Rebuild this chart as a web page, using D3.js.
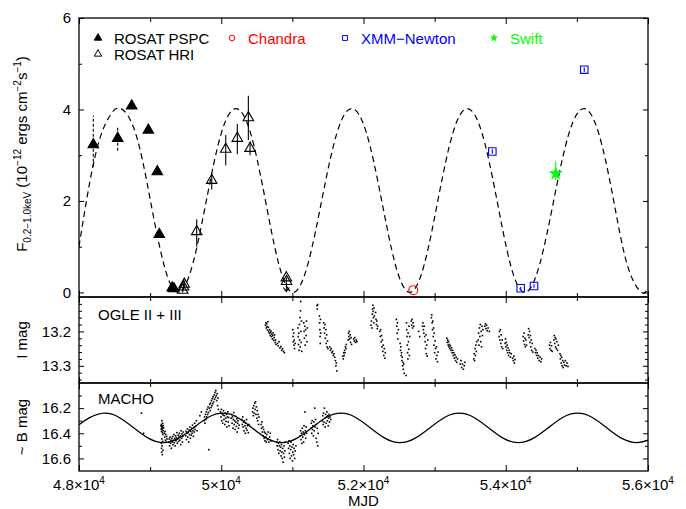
<!DOCTYPE html>
<html>
<head>
<meta charset="utf-8">
<script src="https://cdn.jsdelivr.net/npm/d3@7"></script>
<style>
  body { margin: 0; background: #fff; }
  svg { display: block; font-family: 'Liberation Sans', Arial, sans-serif; }
  .tick line { stroke: #000; }
</style>
</head>
<body>
<div id="chart"></div>
<script>
// ---- values ----
const xMajorTicks = [48000, 50000, 52000, 54000, 56000];
const xMinorTicks = [49000, 51000, 53000, 55000];
const fluxTicks = [0, 2, 4, 6];
const fluxMinorTicks = [1, 3, 5];
const iMagTicks = [13.2, 13.3];
const iMagMinorTicks = [13.12, 13.14, 13.16, 13.18, 13.22, 13.24, 13.26, 13.28, 13.32, 13.34];
const bMagTicks = [16.2, 16.4, 16.6];
const bMagMinorTicks = [16.1, 16.3, 16.5];

// X-ray fluxes: [MJD, flux, errLo, errHi]
const pspc = [
  [48201, 3.23, 2.75, 3.87], [48544, 3.37, 3.1, 3.62], [48741, 4.08], [48975, 3.55],
  [49101, 2.64], [49129, 1.27], [49310, 0.1], [49335, 0.08],
];
const hri = [
  [49458, 0.05, 0.0, 0.12], [49470, 0.12, 0.05, 0.2], [49480, 0.18, 0.1, 0.26],
  [49655, 1.33, 1.0, 1.6], [49866, 2.45, 2.25, 2.6], [50063, 3.13, 2.78, 3.44],
  [50226, 3.37, 3.02, 3.68], [50381, 3.82, 3.33, 4.3], [50405, 3.15, 3.0, 3.3],
];
const hriUpperLimits = [[50915, 0.32], [50918, 0.24]];
const chandra = [[52700, 0.05]];
const xmm = [[53811, 3.08, 3.03, 3.13], [54210, 0.09, 0.05, 0.12], [54397, 0.14, 0.1, 0.18], [55104, 4.87, 4.82, 4.92]];
const swift = [[54702, 2.6, 2.45, 2.87]];

// dashed model in the flux panel: [MJD, flux]
const fluxModel = [
  [48000, 1.0], [48150, 2.4], [48300, 3.4], [48450, 3.9], [48590, 4.02],
  [48792, 3.5], [48993, 2.1], [49195, 0.6], [49396, 0.0],
  [49599, 0.62], [49802, 2.1], [50004, 3.5], [50207, 4.02],
  [50409, 3.5], [50610, 2.1], [50812, 0.6], [51013, 0.0],
  [51218, 0.62], [51424, 2.1], [51629, 3.5], [51834, 4.02],
  [52039, 3.5], [52244, 2.1], [52449, 0.6], [52654, 0.0],
  [52856, 0.62], [53057, 2.1], [53259, 3.5], [53460, 4.02],
  [53663, 3.5], [53866, 2.1], [54068, 0.6], [54271, 0.0],
  [54478, 0.62], [54686, 2.1], [54893, 3.5], [55100, 4.02],
  [55303, 3.5], [55506, 2.1], [55709, 0.6], [55912, 0.0], [56000, 0.12],
];

// solid model in the MACHO panel: [MJD, mag]
const bModel = [
  [48000, 16.332], [48150, 16.276], [48358, 16.24],
  [48566, 16.274], [48773, 16.358], [48981, 16.441], [49188, 16.475],
  [49397, 16.441], [49605, 16.358], [49814, 16.274], [50022, 16.24],
  [50229, 16.274], [50437, 16.358], [50644, 16.441], [50851, 16.475],
  [51059, 16.441], [51268, 16.358], [51476, 16.274], [51684, 16.24],
  [51891, 16.274], [52099, 16.358], [52306, 16.441], [52513, 16.475],
  [52722, 16.441], [52930, 16.358], [53139, 16.274], [53347, 16.24],
  [53554, 16.274], [53762, 16.358], [53969, 16.441], [54176, 16.475],
  [54384, 16.441], [54593, 16.358], [54801, 16.274], [55009, 16.24],
  [55217, 16.274], [55425, 16.358], [55633, 16.441], [55841, 16.475], [56000, 16.455],
];

// OGLE II + III I-band: [MJD, mag]
const ogle = [
  [50622,13.182],[50628,13.175],[50633,13.190],[50638,13.178],[50645,13.186],[50650,13.196],[50656,13.172],[50662,13.188],
  [50668,13.200],[50675,13.205],[50681,13.195],[50688,13.212],[50694,13.204],[50700,13.199],[50706,13.215],[50712,13.208],
  [50718,13.222],[50725,13.212],[50731,13.204],[50737,13.226],[50744,13.218],[50750,13.210],[50757,13.232],[50763,13.225],
  [50770,13.238],[50790,13.235],[50800,13.242],[50812,13.230],[50825,13.248],[50838,13.244],[50850,13.255],[50862,13.250],
  [50875,13.258],[50888,13.262],
  [51005,13.195],[51010,13.215],[51014,13.230],[51018,13.205],[51022,13.240],[51026,13.225],[51030,13.250],[51040,13.235],
  [51078,13.190],[51082,13.215],[51086,13.238],[51090,13.205],[51094,13.255],[51098,13.180],[51102,13.225],[51106,13.160],
  [51110,13.245],[51114,13.140],[51117,13.113],[51120,13.200],[51124,13.232],[51128,13.170],[51132,13.258],
  [51160,13.175],[51165,13.200],[51170,13.220],[51175,13.185],[51180,13.240],[51186,13.195],[51192,13.212],[51198,13.170],
  [51205,13.230],[51210,13.190],
  [51345,13.125],[51350,13.135],[51355,13.122],[51380,13.155],[51383,13.175],[51386,13.195],[51389,13.215],[51392,13.235],
  [51395,13.165],[51398,13.205],[51440,13.175],[51446,13.190],[51452,13.205],[51458,13.180],[51464,13.220],[51470,13.195],
  [51476,13.235],[51482,13.210],[51488,13.245],[51494,13.228],[51500,13.250],[51525,13.245],[51535,13.255],[51545,13.250],
  [51555,13.262],[51565,13.258],[51575,13.270],[51585,13.265],[51595,13.275],[51605,13.285],[51612,13.300],[51618,13.292],
  [51625,13.315],
  [51710,13.272],[51716,13.280],[51722,13.262],[51728,13.270],[51734,13.255],[51740,13.262],[51746,13.245],[51752,13.250],
  [51758,13.238],[51785,13.225],[51790,13.205],[51795,13.215],[51800,13.200],[51806,13.222],[51812,13.210],[51818,13.232],
  [51825,13.218],[51832,13.238],[51862,13.222],[51870,13.228],[51878,13.218],[51888,13.232],[51898,13.225],[51908,13.230],
  [52105,13.182],[52112,13.170],[52118,13.190],[52124,13.150],[52128,13.135],[52132,13.124],[52136,13.142],[52140,13.160],
  [52144,13.175],[52148,13.132],[52152,13.155],[52170,13.145],[52176,13.165],[52182,13.180],[52188,13.170],[52194,13.192],
  [52200,13.185],[52230,13.200],[52236,13.215],[52242,13.195],[52248,13.230],[52254,13.212],[52260,13.245],[52266,13.225],
  [52272,13.258],[52278,13.240],[52285,13.270],[52292,13.250],[52300,13.278],[52306,13.262],
  [52462,13.165],[52468,13.185],[52474,13.205],[52478,13.175],[52484,13.222],[52490,13.195],[52515,13.235],[52520,13.255],
  [52525,13.245],[52530,13.270],[52535,13.262],[52540,13.285],[52545,13.275],[52550,13.300],[52555,13.290],[52560,13.310],
  [52566,13.295],[52572,13.322],[52598,13.328],[52604,13.175],[52608,13.195],[52612,13.215],[52616,13.240],[52620,13.262],
  [52624,13.280],[52628,13.205],[52632,13.230],[52636,13.252],[52640,13.185],[52645,13.270],[52650,13.215],[52672,13.170],
  [52678,13.182],[52684,13.165],[52690,13.190],[52698,13.175],[52706,13.185],
  [52775,13.200],[52790,13.215],[52830,13.185],[52836,13.175],[52842,13.195],[52848,13.205],[52854,13.185],[52860,13.215],
  [52866,13.230],[52872,13.250],[52878,13.210],[52884,13.265],[52890,13.240],[52896,13.272],[52904,13.225],[52955,13.160],
  [52960,13.152],[52965,13.175],[52970,13.195],[52975,13.170],[52980,13.215],[52985,13.190],[52990,13.240],[52995,13.205],
  [53000,13.262],[53006,13.228],[53012,13.250],[53018,13.280],[53025,13.245],[53032,13.270],[53040,13.288],[53048,13.260],
  [53172,13.220],[53178,13.232],[53184,13.225],[53190,13.240],[53196,13.230],[53202,13.245],[53208,13.238],[53214,13.250],
  [53222,13.242],[53230,13.255],[53238,13.248],[53246,13.262],[53254,13.255],[53262,13.270],[53270,13.262],[53278,13.278],
  [53286,13.268],[53294,13.285],[53302,13.275],[53312,13.290],[53322,13.280],[53360,13.295],[53370,13.285],[53380,13.305],
  [53392,13.295],[53404,13.310],[53416,13.300],[53425,13.290],
  [53550,13.280],[53556,13.265],[53562,13.285],[53568,13.250],[53574,13.270],[53580,13.240],[53586,13.258],[53592,13.230],
  [53612,13.225],[53618,13.205],[53624,13.240],[53630,13.190],[53636,13.215],[53642,13.180],[53648,13.230],[53654,13.200],
  [53660,13.245],[53666,13.185],[53672,13.212],[53680,13.195],[53706,13.185],[53714,13.178],[53722,13.192],[53730,13.182],
  [53740,13.198],[53752,13.190],[53770,13.200],
  [53905,13.215],[53912,13.200],[53918,13.225],[53924,13.195],[53930,13.235],[53936,13.210],[53942,13.245],[53950,13.225],
  [53958,13.250],[53990,13.235],[53996,13.222],[54002,13.245],[54008,13.232],[54014,13.255],[54020,13.240],[54026,13.262],
  [54032,13.248],[54040,13.270],[54048,13.255],[54056,13.262],[54066,13.275],[54076,13.265],[54098,13.278],[54106,13.285],
  [54114,13.272],[54122,13.292],[54130,13.282],
  [54245,13.215],[54252,13.228],[54258,13.205],[54264,13.238],[54270,13.220],[54276,13.245],[54284,13.225],[54292,13.240],
  [54316,13.210],[54322,13.192],[54328,13.218],[54334,13.200],[54340,13.232],[54346,13.212],[54352,13.245],[54358,13.225],
  [54364,13.255],[54372,13.235],[54380,13.260],[54410,13.250],[54418,13.262],[54426,13.255],[54434,13.270],[54442,13.262],
  [54450,13.278],[54460,13.270],[54470,13.285],[54482,13.275],[54494,13.288],[54504,13.280],
  [54615,13.240],[54622,13.250],[54628,13.232],[54636,13.255],[54644,13.242],[54652,13.258],[54676,13.225],[54682,13.212],
  [54688,13.235],[54694,13.218],[54700,13.245],[54706,13.222],[54712,13.250],[54720,13.230],[54728,13.255],[54740,13.240],
  [54762,13.265],[54768,13.280],[54774,13.270],[54780,13.292],[54786,13.275],[54792,13.300],[54800,13.285],[54808,13.305],
  [54816,13.290],[54826,13.298],[54838,13.285],[54850,13.300],[54862,13.292],[54875,13.302],
];

// MACHO blue band: [MJD, mag]
const macho = [
  [48878,16.240],[48908,16.400],
  [49152,16.340],[49155,16.365],[49158,16.330],[49160,16.385],[49163,16.350],[49165,16.300],[49168,16.372],[49170,16.345],
  [49173,16.395],[49175,16.320],[49178,16.360],[49180,16.410],[49183,16.338],[49186,16.380],[49190,16.355],[49157,16.480],
  [49160,16.520],[49162,16.550],[49165,16.445],[49168,16.500],[49171,16.570],[49176,16.465],[49182,16.535],[49200,16.400],
  [49205,16.430],[49210,16.385],[49215,16.455],[49220,16.410],[49226,16.470],[49232,16.425],[49238,16.445],
  [49262,16.470],[49268,16.445],[49274,16.500],[49280,16.430],[49286,16.480],[49292,16.455],[49298,16.520],[49304,16.440],
  [49310,16.470],[49316,16.425],[49322,16.490],[49328,16.455],[49334,16.410],[49340,16.475],[49346,16.440],[49352,16.500],
  [49358,16.420],[49364,16.460],[49370,16.435],[49376,16.395],[49382,16.480],[49388,16.445],[49394,16.415],[49400,16.465],
  [49406,16.430],[49412,16.400],[49418,16.455],[49424,16.420],[49430,16.490],[49436,16.380],[49442,16.440],[49448,16.405],
  [49454,16.470],[49460,16.425],[49466,16.390],[49500,16.420],[49506,16.385],[49512,16.450],[49518,16.400],[49524,16.365],
  [49530,16.430],[49536,16.395],[49542,16.470],[49548,16.375],[49554,16.410],[49560,16.350],[49566,16.440],[49572,16.385],
  [49578,16.415],[49584,16.360],[49590,16.400],[49596,16.335],[49602,16.380],[49608,16.425],[49614,16.355],[49620,16.390],
  [49626,16.320],[49632,16.370],[49640,16.345],[49650,16.300],[49660,16.380],
  [49700,16.260],[49720,16.230],[49760,16.300],[49766,16.270],[49772,16.320],[49778,16.250],[49784,16.290],[49790,16.230],
  [49796,16.270],[49802,16.210],[49808,16.250],[49814,16.190],[49820,16.235],[49826,16.530],[49832,16.200],[49838,16.170],
  [49844,16.220],[49850,16.160],[49856,16.195],[49862,16.140],[49868,16.180],[49874,16.125],[49880,16.165],[49886,16.110],
  [49892,16.150],[49900,16.095],[49906,16.130],[49912,16.075],[49918,16.115],[49924,16.060],[49930,16.100],[49936,16.140],
  [49942,16.085],[49948,16.180],[49954,16.120],[49960,16.210],
  [49990,16.230],[49996,16.270],[50002,16.210],[50008,16.300],[50014,16.245],[50020,16.320],[50026,16.255],[50032,16.220],
  [50038,16.290],[50044,16.260],[50050,16.330],[50056,16.240],[50062,16.280],[50068,16.305],[50074,16.250],[50080,16.350],
  [50086,16.270],[50092,16.230],[50098,16.310],[50104,16.275],[50110,16.340],[50140,16.280],[50146,16.250],[50152,16.320],
  [50158,16.270],[50164,16.360],[50170,16.290],[50176,16.235],[50182,16.330],[50188,16.300],[50194,16.370],[50200,16.265],
  [50206,16.310],[50212,16.345],[50218,16.285],[50224,16.390],[50230,16.320],[50236,16.300],[50242,16.360],[50250,16.335],
  [50290,16.290],[50296,16.330],[50302,16.270],[50308,16.350],[50314,16.310],[50320,16.380],[50326,16.300],[50332,16.340],
  [50338,16.400],[50344,16.320],[50350,16.360],[50356,16.290],[50362,16.375],[50370,16.340],[50380,16.395],[50390,16.330],
  [50440,16.230],[50446,16.200],[50452,16.260],[50458,16.180],[50464,16.240],[50470,16.160],[50476,16.210],[50482,16.150],
  [50488,16.250],[50494,16.190],[50500,16.280],[50506,16.220],[50512,16.300],[50518,16.250],[50524,16.330],[50530,16.270],
  [50560,16.330],[50566,16.360],[50572,16.310],[50578,16.390],[50584,16.350],[50590,16.420],[50596,16.370],[50602,16.440],
  [50608,16.390],[50614,16.460],[50620,16.400],[50626,16.430],[50632,16.470],[50640,16.410],[50650,16.450],[50660,16.390],
  [50670,16.470],[50680,16.430],[50690,16.400],[50700,16.460],
  [50780,16.470],[50786,16.500],[50792,16.450],[50798,16.530],[50804,16.480],[50810,16.560],[50816,16.500],[50822,16.470],
  [50828,16.540],[50834,16.510],[50840,16.580],[50846,16.490],[50852,16.550],[50858,16.600],[50864,16.520],[50870,16.630],
  [50876,16.560],[50882,16.500],[50888,16.590],[50894,16.540],[50900,16.470],[50940,16.480],[50946,16.520],[50952,16.460],
  [50958,16.560],[50964,16.500],[50970,16.600],[50976,16.530],[50982,16.470],[50988,16.580],[50994,16.510],[51000,16.620],
  [51006,16.550],[51012,16.490],[51018,16.570],[51024,16.520],[51032,16.600],[51040,16.540],[51050,16.500],
  [51110,16.420],[51116,16.380],[51122,16.450],[51128,16.400],[51134,16.480],[51140,16.360],[51146,16.430],[51152,16.390],
  [51158,16.470],[51164,16.340],[51170,16.410],[51176,16.230],[51182,16.380],[51188,16.440],[51194,16.350],[51200,16.400],
  [51260,16.360],[51266,16.320],[51272,16.400],[51278,16.300],[51284,16.370],[51290,16.340],[51296,16.420],[51302,16.310],
  [51308,16.380],[51314,16.200],[51320,16.350],[51326,16.290],[51332,16.440],[51338,16.330],[51344,16.470],[51350,16.360],
  [51356,16.500],[51362,16.400],[51420,16.300],[51426,16.260],[51432,16.330],[51438,16.240],[51444,16.310],[51450,16.200],
  [51456,16.280],[51462,16.350],[51468,16.250],[51474,16.320],[51480,16.270],[51486,16.230],[51492,16.300],[51498,16.260],
  [51504,16.340],[51510,16.280],[51516,16.250],[51522,16.310],[51530,16.270],[51540,16.290],
];

// ---- layout ----
const width = 686;
const height = 509;
const left = 79;
const right = 648;
const panels = {
  flux: { top: 18, bottom: 297 },
  ogle: { top: 297, bottom: 383 },
  macho: { top: 383, bottom: 471 },
};
const green = '#00ff00';

const svg = d3.select('#chart').append('svg')
  .attr('width', width)
  .attr('height', height);

svg.append('rect').attr('width', width).attr('height', height).attr('fill', '#fff');

const x = d3.scaleLinear().domain([48000, 56000]).range([left, right]);
const yFlux = d3.scaleLinear().domain([-0.1, 6]).range([panels.flux.bottom, panels.flux.top]);
const yI = d3.scaleLinear().domain([13.1, 13.35]).range([panels.ogle.top, panels.ogle.bottom]);
const yB = d3.scaleLinear().domain([16.0, 16.7]).range([panels.macho.top, panels.macho.bottom]);

// clip paths for each panel
const defs = svg.append('defs');
Object.entries(panels).forEach(([key, p]) => {
  defs.append('clipPath').attr('id', `clip-${key}`)
    .append('rect')
    .attr('x', left).attr('y', p.top)
    .attr('width', right - left).attr('height', p.bottom - p.top);
});

// axes with inward ticks on all four sides of a panel
function drawAxes(p, y, majors, minors, fmt) {
  const g = svg.append('g');
  const add = (axis, tx, ty) => {
    const a = g.append('g').attr('transform', `translate(${tx},${ty})`).call(axis);
    a.select('.domain').remove();
    a.selectAll('line').attr('stroke-width', 1);
    return a;
  };
  add(d3.axisBottom(x).tickValues(xMajorTicks).tickSize(6).tickFormat(''), 0, p.top);
  add(d3.axisBottom(x).tickValues(xMinorTicks).tickSize(4).tickFormat(''), 0, p.top);
  add(d3.axisTop(x).tickValues(xMajorTicks).tickSize(6).tickFormat(''), 0, p.bottom);
  add(d3.axisTop(x).tickValues(xMinorTicks).tickSize(4).tickFormat(''), 0, p.bottom);

  const yl = add(d3.axisLeft(y).tickValues(majors).tickSize(-5).tickPadding(8).tickFormat(fmt), left, 0);
  yl.selectAll('text').attr('font-size', 15).attr('fill', '#000');
  add(d3.axisLeft(y).tickValues(minors).tickSize(-3).tickFormat(''), left, 0);
  add(d3.axisRight(y).tickValues(majors).tickSize(-5).tickFormat(''), right, 0);
  add(d3.axisRight(y).tickValues(minors).tickSize(-3).tickFormat(''), right, 0);

  svg.append('rect')
    .attr('x', left).attr('y', p.top)
    .attr('width', right - left).attr('height', p.bottom - p.top)
    .attr('fill', 'none').attr('stroke', '#000').attr('stroke-width', 1.3);
}

drawAxes(panels.flux, yFlux, fluxTicks, fluxMinorTicks, d3.format('d'));
drawAxes(panels.ogle, yI, iMagTicks, iMagMinorTicks, d3.format('.1f'));
drawAxes(panels.macho, yB, bMagTicks, bMagMinorTicks, d3.format('.1f'));

// x tick labels as mantissa x 10^4
const xLabels = svg.append('g').attr('font-size', 15);
xLabels.selectAll('text')
  .data(xMajorTicks)
  .join('text')
  .attr('x', (d) => x(d))
  .attr('y', 490)
  .attr('text-anchor', 'middle')
  .each(function (d) {
    const t = d3.select(this);
    t.append('tspan').text(`${d3.format('~g')(d / 1e4)}×10`);
    t.append('tspan').attr('font-size', 10).attr('dy', -6).text('4');
  });

svg.append('text')
  .attr('x', x(52000)).attr('y', 506)
  .attr('text-anchor', 'middle').attr('font-size', 15)
  .text('MJD');

// y axis titles
const fluxTitle = svg.append('text')
  .attr('transform', 'translate(27,154) rotate(-90)')
  .attr('text-anchor', 'middle')
  .attr('font-size', 15);
fluxTitle.append('tspan').text('F');
fluxTitle.append('tspan').attr('font-size', 10).attr('dy', 4).text('0.2−1.0keV');
fluxTitle.append('tspan').attr('dy', -4).text(' (10');
fluxTitle.append('tspan').attr('font-size', 10).attr('dy', -6).text('−12');
fluxTitle.append('tspan').attr('dy', 6).text(' ergs cm');
fluxTitle.append('tspan').attr('font-size', 10).attr('dy', -6).text('−2');
fluxTitle.append('tspan').attr('dy', 6).text('s');
fluxTitle.append('tspan').attr('font-size', 10).attr('dy', -6).text('−1');
fluxTitle.append('tspan').attr('dy', 6).text(')');

svg.append('text')
  .attr('transform', 'translate(27,340) rotate(-90)')
  .attr('text-anchor', 'middle').attr('font-size', 15)
  .text('I mag');
svg.append('text')
  .attr('transform', 'translate(27,427) rotate(-90)')
  .attr('text-anchor', 'middle').attr('font-size', 15)
  .text('~ B mag');

// panel labels
svg.append('text').attr('x', 98).attr('y', 320).attr('font-size', 15).text('OGLE II + III');
svg.append('text').attr('x', 98).attr('y', 404).attr('font-size', 15).text('MACHO');

// ---- flux panel ----
const gFlux = svg.append('g').attr('clip-path', 'url(#clip-flux)');

gFlux.append('path')
  .datum(fluxModel)
  .attr('fill', 'none')
  .attr('stroke', '#000')
  .attr('stroke-width', 1.2)
  .attr('stroke-dasharray', '6,4')
  .attr('d', d3.line().x((d) => x(d[0])).y((d) => yFlux(d[1])).curve(d3.curveNatural));

// error bars
const errBars = (data, color, dash) => {
  gFlux.append('g').selectAll('line')
    .data(data.filter((d) => d.length > 2))
    .join('line')
    .attr('x1', (d) => x(d[0])).attr('x2', (d) => x(d[0]))
    .attr('y1', (d) => yFlux(d[2])).attr('y2', (d) => yFlux(d[3]))
    .attr('stroke', color)
    .attr('stroke-width', 1.1)
    .attr('stroke-dasharray', dash);
};
errBars(pspc, '#000', '3,2');
errBars(hri, '#000', null);
errBars(xmm, '#0000ff', null);
errBars(swift, green, null);

// upper-limit arrow
hriUpperLimits.slice(0, 1).forEach((d) => {
  const ax = x(d[0]);
  const y1 = yFlux(d[1]);
  const y2 = yFlux(0.02);
  gFlux.append('path')
    .attr('d', `M${ax},${y1}L${ax},${y2}M${ax - 3},${y2 - 4}L${ax},${y2}L${ax + 3},${y2 - 4}`)
    .attr('fill', 'none').attr('stroke', '#000').attr('stroke-width', 1.1);
});

const markers = (data, type, size, fill, stroke) => {
  gFlux.append('g').selectAll('path')
    .data(data)
    .join('path')
    .attr('transform', (d) => `translate(${x(d[0])},${yFlux(d[1])})`)
    .attr('d', d3.symbol().type(type).size(size))
    .attr('fill', fill)
    .attr('stroke', stroke)
    .attr('stroke-width', 1.1);
};
markers(pspc, d3.symbolTriangle, 48, '#000', '#000');
markers(hri, d3.symbolTriangle, 48, 'none', '#000');
markers(hriUpperLimits, d3.symbolTriangle, 48, 'none', '#000');
markers(chandra, d3.symbolCircle, 62, 'none', '#ff0000');
markers(xmm, d3.symbolSquare, 56, 'none', '#0000ff');
markers(swift, d3.symbolStar, 38, green, green);

// legend
const legendItems = [
  { label: 'ROSAT PSPC', type: d3.symbolTriangle, fill: '#000', stroke: '#000', color: '#000', x: 98, y: 38, size: 24 },
  { label: 'ROSAT HRI', type: d3.symbolTriangle, fill: 'none', stroke: '#000', color: '#000', x: 98, y: 54, size: 24 },
  { label: 'Chandra', type: d3.symbolCircle, fill: 'none', stroke: '#ff0000', color: '#ff0000', x: 232, y: 38, size: 24 },
  { label: 'XMM−Newton', type: d3.symbolSquare, fill: 'none', stroke: '#0000ff', color: '#0000ff', x: 345, y: 38, size: 24 },
  { label: 'Swift', type: d3.symbolStar, fill: green, stroke: green, color: green, x: 494, y: 38, size: 12 },
];
const legend = svg.append('g');
legendItems.forEach((it) => {
  legend.append('path')
    .attr('transform', `translate(${it.x},${it.y})`)
    .attr('d', d3.symbol().type(it.type).size(it.size))
    .attr('fill', it.fill).attr('stroke', it.stroke).attr('stroke-width', 1);
  legend.append('text')
    .attr('x', it.x + 16).attr('y', it.y + 5.5)
    .attr('font-size', 15)
    .attr('fill', it.color)
    .text(it.label);
});

// ---- OGLE panel ----
svg.append('g').attr('clip-path', 'url(#clip-ogle)')
  .selectAll('rect')
  .data(ogle)
  .join('rect')
  .attr('x', (d) => x(d[0]) - 0.8)
  .attr('y', (d) => yI(d[1]) - 0.8)
  .attr('width', 1.6).attr('height', 1.6)
  .attr('fill', '#000');

// ---- MACHO panel ----
const gB = svg.append('g').attr('clip-path', 'url(#clip-macho)');
gB.append('path')
  .datum(bModel)
  .attr('fill', 'none')
  .attr('stroke', '#000')
  .attr('stroke-width', 1.3)
  .attr('d', d3.line().x((d) => x(d[0])).y((d) => yB(d[1])).curve(d3.curveNatural));
gB.selectAll('rect')
  .data(macho)
  .join('rect')
  .attr('x', (d) => x(d[0]) - 0.8)
  .attr('y', (d) => yB(d[1]) - 0.8)
  .attr('width', 1.6).attr('height', 1.6)
  .attr('fill', '#000');
</script>
</body>
</html>
